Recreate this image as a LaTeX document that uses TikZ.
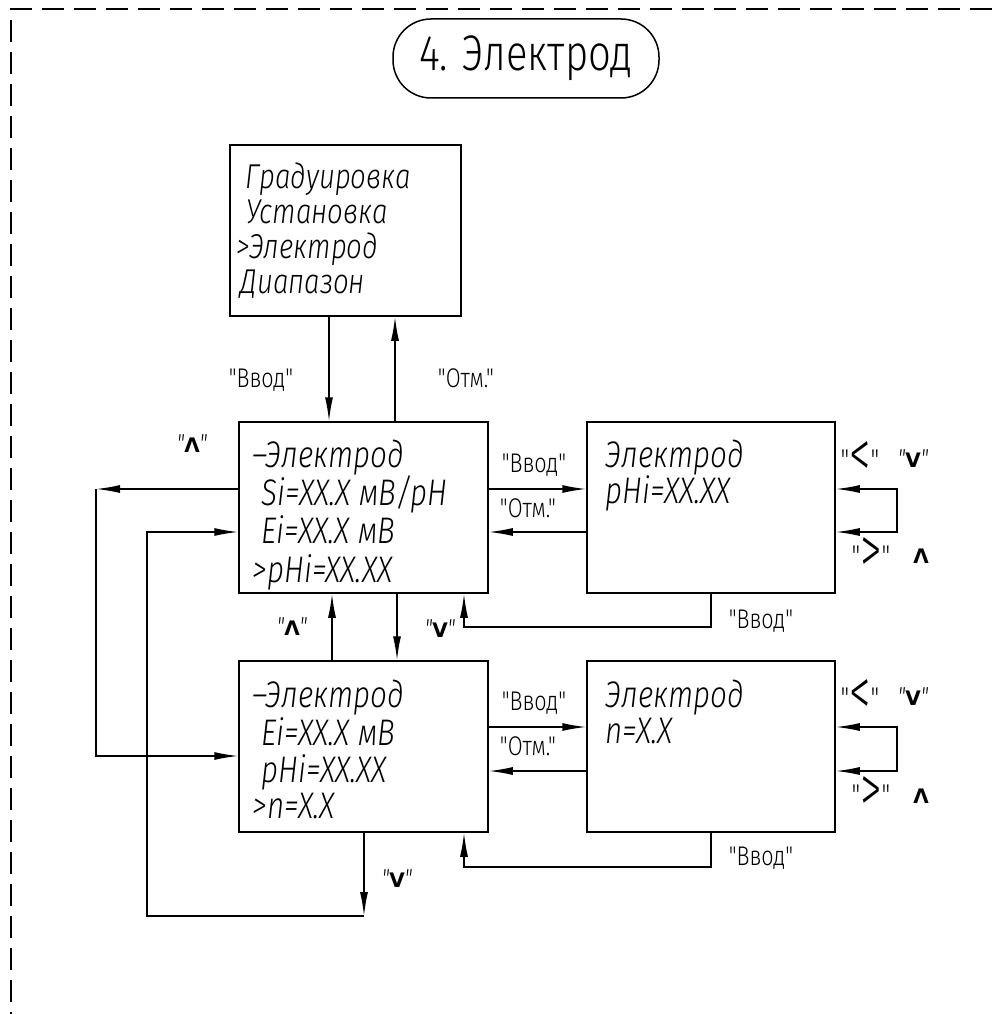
\documentclass[tikz,border=0pt]{standalone}
\usepackage{fontspec}
\usetikzlibrary{arrows.meta}
\newfontfamily\lab{Fira Sans Light}[FakeStretch=0.8]
\newfontfamily\ital{Fira Sans Light Italic}[FakeStretch=0.8]
\newfontfamily\kb{DejaVu Sans Bold}
\newcommand\qq{{\ital\fontsize{26}{26}\selectfont"}}
\newcommand\sq{{\lab\fontsize{30}{30}\selectfont"}}
\newcommand\bigsym[1]{\raisebox{-7pt}{\scalebox{1.35}[1.7]{#1}}}
\begin{document}
\begin{tikzpicture}[x=1pt,y=-1pt,line width=1.5pt,
  arr/.style={-{Latex[length=24pt,width=8pt]}},
  arrb/.style={{Latex[length=24pt,width=8pt]}-{Latex[length=24pt,width=8pt]}},
  scr/.style={draw,rectangle,minimum width=249pt,minimum height=171pt,inner sep=0pt},
  ln/.style={anchor=base west,inner sep=0pt,font=\ital\fontsize{37}{37}\selectfont},
  lnt/.style={anchor=base west,inner sep=0pt,font=\ital\fontsize{34.5}{34.5}\selectfont},
  lbl/.style={anchor=base,inner sep=0pt,font=\lab\fontsize{27}{27}\selectfont},
  sym/.style={anchor=base,inner sep=0pt,font=\lab\fontsize{40}{40}\selectfont},
  key/.style={anchor=base,inner sep=0pt,font=\fontsize{20}{20}\selectfont},
  border/.style={dash pattern=on 22pt off 10pt}]
\useasboundingbox (0,0) rectangle (1001,1014);
% frame
\draw[border] (10,9) -- (1001,9);
\draw[border] (11,20) -- (11,1014);
% title
\node[draw,rounded corners=38pt,minimum width=266pt,minimum height=79pt,inner sep=0pt,
      font=\lab\fontsize{50}{50}\selectfont] (title) at (526,58.5) {4. Электрод};
% boxes
\node[scr,minimum width=231pt] (T) at (345.5,230.5) {};
\node[scr] (B1) at (363.5,507.5) {};
\node[scr] (B2) at (363.5,746.5) {};
\node[scr,minimum width=248pt] (R1) at (711,507.5) {};
\node[scr,minimum width=248pt] (R2) at (711,746.5) {};
% texts top box
\node[lnt] (t1) at (245,188) {Градуировка};
\node[lnt] (t2) at (246,223) {Установка};
\node[lnt] (t3) at (236,258) {>Электрод};
\node[lnt] (t4) at (240,293) {Диапазон};
% B1
\node[ln] (a1) at (252,467) {–Электрод};
\node[ln] (a2) at (261,505) {Si=XX.X мВ/pH};
\node[ln] (a3) at (261,543) {Ei=XX.X мВ};
\node[ln] (a4) at (252,582) {>pHi=XX.XX};
% B2
\node[ln] (b1) at (252,707) {–Электрод};
\node[ln] (b2) at (261,745) {Ei=XX.X мВ};
\node[ln] (b3) at (261,782) {pHi=XX.XX};
\node[ln] (b4) at (252,818) {>n=X.X};
% R1, R2
\node[ln] (r1) at (605,467) {Электрод};
\node[ln] (r2) at (605,503) {pHi=XX.XX};
\node[ln] (s1) at (605,707) {Электрод};
\node[ln] (s2) at (605,743) {n=X.X};
% helper coordinates
\coordinate (ya) at (0,489);
\coordinate (yb) at (0,532);
\coordinate (yc) at (0,727);
\coordinate (yd) at (0,771);
\coordinate (ye) at (0,756);
\coordinate (yf) at (0,627);
\coordinate (yg) at (0,867);
\coordinate (yh) at (0,916);
\coordinate (xa) at (329,0);
\coordinate (xb) at (395,0);
\coordinate (xc) at (332,0);
\coordinate (xd) at (397,0);
\coordinate (xe) at (464,0);
\coordinate (xf) at (711,0);
\coordinate (xg) at (897,0);
\coordinate (xh) at (96,0);
\coordinate (xi) at (147,0);
\coordinate (xj) at (364,0);
% connectors
\draw[arr] (T.south -| xa) -- (B1.north -| xa);
\draw[arr] (B1.north -| xb) -- (T.south -| xb);
\draw[arr] (B1.east |- ya) -- (R1.west |- ya);
\draw[arr] (R1.west |- yb) -- (B1.east |- yb);
\draw[arr] (B2.east |- yc) -- (R2.west |- yc);
\draw[arr] (R2.west |- yd) -- (B2.east |- yd);
\draw[arr] (B2.north -| xc) -- (B1.south -| xc);
\draw[arr] (B1.south -| xd) -- (B2.north -| xd);
\draw[arr] (R1.south -| xf) -- (xf |- yf) -- (xe |- yf) -- (B1.south -| xe);
\draw[arr] (R2.south -| xf) -- (xf |- yg) -- (xe |- yg) -- (B2.south -| xe);
\draw[arrb] (R1.east |- ya) -- (xg |- ya) -- (xg |- yb) -- (R1.east |- yb);
\draw[arrb] (R2.east |- yc) -- (xg |- yc) -- (xg |- yd) -- (R2.east |- yd);
\coordinate (c1) at (xh |- ya);
\draw[arr] (B1.west |- ya) -- (c1);
\draw[arr] (c1) -- (xh |- ye) -- (B2.west |- ye);
\coordinate (c2) at (xj |- yh);
\draw[arr] (B2.south -| xj) -- (c2);
\draw[arr] (c2) -- (xi |- yh) -- (xi |- yb) -- (B1.west |- yb);
% labels
\node[lbl] (l1) at (261,387) {"Ввод"};
\node[lbl] (l2) at (466,387) {"Отм."};
\node[lbl] (l3) at (534,472) {"Ввод"};
\node[lbl] (l4) at (528,517) {"Отм."};
\node[lbl] (l5) at (761,628) {"Ввод"};
\node[lbl] (l6) at (534,710) {"Ввод"};
\node[lbl] (l7) at (528,755) {"Отм."};
\node[lbl] (l8) at (761,865) {"Ввод"};
\node[sym] (m1) at (860,470) {\sq\bigsym{<}\sq};
\node[sym] (m2) at (871,566) {\sq\bigsym{>}\sq};
\node[sym] (m3) at (860,708) {\sq\bigsym{<}\sq};
\node[sym] (m4) at (871,805) {\sq\bigsym{>}\sq};
\node[key] (k1) at (913,467) {\qq{\kb V}\qq};
\node[key] (k2) at (921,563) {\kb Λ};
\node[key] (k3) at (913,705) {\qq{\kb V}\qq};
\node[key] (k4) at (921,803) {\kb Λ};
\node[key] (k5) at (192,452) {\qq{\kb Λ}\qq};
\node[key] (k6) at (292,635) {\qq{\kb Λ}\qq};
\node[key] (k7) at (440,637) {\qq{\kb V}\qq};
\node[key] (k8) at (397,887) {\qq{\kb V}\qq};
\end{tikzpicture}
\end{document}
